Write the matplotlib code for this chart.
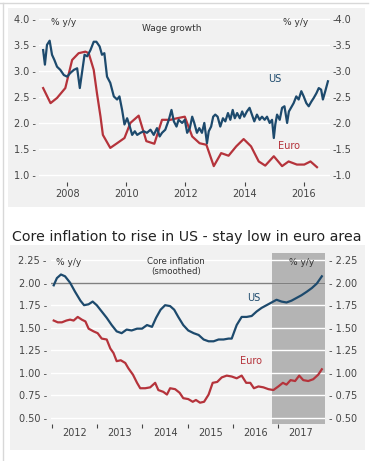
import matplotlib
matplotlib.use("Agg")
import matplotlib.pyplot as plt
from matplotlib.patches import Rectangle
from matplotlib.lines import Line2D
from matplotlib.ticker import FuncFormatter, FixedLocator

# ---------------- data: wage growth ----------------
us_wage_t = [2007.19, 2007.25, 2007.32, 2007.41, 2007.49, 2007.57, 2007.66, 2007.77, 2007.89, 2008.00,
             2008.11, 2008.23, 2008.34, 2008.43, 2008.51, 2008.59, 2008.68, 2008.79, 2008.90, 2008.99,
             2009.10, 2009.18, 2009.26, 2009.35, 2009.46, 2009.58, 2009.69, 2009.77, 2009.86, 2009.94,
             2010.03, 2010.12, 2010.20, 2010.29, 2010.37, 2010.48, 2010.59, 2010.70, 2010.82, 2010.93,
             2011.04, 2011.13, 2011.21, 2011.32, 2011.44, 2011.53, 2011.61, 2011.70, 2011.77, 2011.89,
             2011.98, 2012.06, 2012.15, 2012.23, 2012.30, 2012.39, 2012.47, 2012.56, 2012.64, 2012.73,
             2012.79, 2012.87, 2012.94, 2013.01, 2013.09, 2013.18, 2013.27, 2013.35, 2013.44, 2013.52,
             2013.60, 2013.67, 2013.75, 2013.84, 2013.92, 2013.99, 2014.08, 2014.17, 2014.25, 2014.33,
             2014.42, 2014.51, 2014.59, 2014.68, 2014.76, 2014.85, 2014.93, 2014.99, 2015.04, 2015.10,
             2015.19, 2015.27, 2015.35, 2015.44, 2015.50, 2015.57, 2015.66, 2015.75, 2015.83, 2015.92,
             2016.00, 2016.09, 2016.17, 2016.26, 2016.34, 2016.43, 2016.51, 2016.59, 2016.65, 2016.73,
             2016.82]
us_wage = [3.40, 3.12, 3.50, 3.58, 3.31, 3.21, 3.08, 3.02, 2.92, 2.89,
           2.96, 3.02, 3.05, 2.67, 2.99, 3.31, 3.28, 3.40, 3.56, 3.56,
           3.47, 3.31, 3.34, 2.89, 2.77, 2.51, 2.45, 2.51, 2.25, 1.97,
           2.09, 1.93, 1.77, 1.84, 1.77, 1.81, 1.84, 1.81, 1.87, 1.77,
           1.90, 1.74, 1.81, 1.87, 2.06, 2.25, 2.03, 1.93, 2.06, 2.00,
           2.06, 1.81, 1.90, 2.12, 2.00, 1.81, 1.90, 1.81, 2.00, 1.61,
           1.84, 1.93, 2.12, 2.16, 2.12, 1.93, 2.09, 2.03, 2.19, 2.06,
           2.25, 2.09, 2.19, 2.09, 2.22, 2.12, 2.22, 2.29, 2.16, 2.03,
           2.16, 2.06, 2.12, 2.06, 2.12, 2.00, 2.06, 1.71, 1.97, 2.16,
           2.06, 2.29, 2.32, 2.00, 2.22, 2.29, 2.38, 2.51, 2.45, 2.61,
           2.51, 2.38, 2.32, 2.41, 2.48, 2.57, 2.67, 2.64, 2.45, 2.61,
           2.80]

euro_wage_t = [2007.19, 2007.44, 2007.66, 2007.94, 2008.17, 2008.39, 2008.62, 2008.73, 2008.90, 2009.01,
               2009.13, 2009.21, 2009.46, 2009.69, 2009.94, 2010.14, 2010.42, 2010.68, 2010.95, 2011.21,
               2011.49, 2011.72, 2011.98, 2012.23, 2012.48, 2012.71, 2012.96, 2013.21, 2013.46, 2013.72,
               2013.97, 2014.22, 2014.48, 2014.70, 2014.99, 2015.27, 2015.49, 2015.77, 2016.02, 2016.23,
               2016.45]
euro_wage = [2.67, 2.38, 2.48, 2.67, 3.21, 3.34, 3.37, 3.34, 3.02, 2.57,
             2.12, 1.77, 1.52, 1.61, 1.71, 2.00, 2.14, 1.65, 1.60, 2.06,
             2.06, 2.09, 2.12, 1.74, 1.61, 1.58, 1.17, 1.42, 1.37, 1.55,
             1.69, 1.55, 1.26, 1.18, 1.36, 1.17, 1.26, 1.20, 1.20, 1.26,
             1.15]

wage_xticks = [2008, 2010, 2012, 2014, 2016]
wage_yticks = [1.0, 1.5, 2.0, 2.5, 3.0, 3.5, 4.0]

# ---------------- data: core inflation ----------------
us_core_t = [2012.04, 2012.11, 2012.20, 2012.29, 2012.40, 2012.51, 2012.63, 2012.71, 2012.81, 2012.90,
             2012.99, 2013.10, 2013.21, 2013.32, 2013.43, 2013.54, 2013.65, 2013.76, 2013.88, 2013.99,
             2014.10, 2014.21, 2014.30, 2014.40, 2014.50, 2014.61, 2014.70, 2014.79, 2014.90, 2015.01,
             2015.13, 2015.24, 2015.35, 2015.46, 2015.57, 2015.68, 2015.79, 2015.90, 2015.97, 2016.08,
             2016.19, 2016.30, 2016.41, 2016.52, 2016.63, 2016.74, 2016.85, 2016.96, 2017.07, 2017.18,
             2017.29, 2017.40, 2017.51, 2017.63, 2017.74, 2017.85, 2017.96]
us_core = [1.97, 2.05, 2.09, 2.07, 2.00, 1.90, 1.80, 1.75, 1.76, 1.79,
           1.75, 1.68, 1.61, 1.53, 1.46, 1.44, 1.48, 1.47, 1.49, 1.49,
           1.53, 1.51, 1.61, 1.70, 1.75, 1.74, 1.70, 1.62, 1.53, 1.47,
           1.44, 1.42, 1.37, 1.35, 1.35, 1.37, 1.37, 1.38, 1.38, 1.53,
           1.62, 1.62, 1.63, 1.68, 1.72, 1.75, 1.78, 1.81, 1.79, 1.78,
           1.80, 1.83, 1.86, 1.90, 1.94, 1.99, 2.07]

euro_core_t = [2012.04, 2012.13, 2012.22, 2012.32, 2012.40, 2012.48, 2012.57, 2012.66, 2012.74, 2012.81,
               2012.92, 2013.01, 2013.10, 2013.21, 2013.29, 2013.36, 2013.43, 2013.52, 2013.62, 2013.69,
               2013.79, 2013.88, 2013.95, 2014.06, 2014.17, 2014.28, 2014.35, 2014.46, 2014.54, 2014.61,
               2014.72, 2014.82, 2014.90, 2015.01, 2015.11, 2015.18, 2015.27, 2015.36, 2015.46, 2015.55,
               2015.65, 2015.75, 2015.86, 2015.97, 2016.08, 2016.19, 2016.29, 2016.38, 2016.46, 2016.56,
               2016.67, 2016.78, 2016.89, 2017.00, 2017.10, 2017.18, 2017.27, 2017.37, 2017.46, 2017.55,
               2017.66, 2017.77, 2017.88, 2017.96]
euro_core = [1.58, 1.56, 1.56, 1.58, 1.59, 1.58, 1.62, 1.59, 1.57, 1.49,
             1.46, 1.44, 1.38, 1.37, 1.27, 1.22, 1.13, 1.14, 1.11, 1.05,
             0.98, 0.89, 0.83, 0.83, 0.84, 0.89, 0.81, 0.79, 0.76, 0.83,
             0.82, 0.78, 0.72, 0.71, 0.68, 0.70, 0.67, 0.68, 0.76, 0.89,
             0.90, 0.95, 0.97, 0.96, 0.94, 0.97, 0.89, 0.89, 0.83, 0.85,
             0.84, 0.82, 0.81, 0.85, 0.89, 0.87, 0.92, 0.91, 0.97, 0.92,
             0.91, 0.93, 0.98, 1.04]

core_year_bounds = [2012, 2013, 2014, 2015, 2016, 2017]
core_year_labels = ["2012", "2013", "2014", "2015", "2016", "2017"]
core_yticks = [0.50, 0.75, 1.00, 1.25, 1.50, 1.75, 2.00, 2.25]
forecast_span = (2016.85, 2018.03)

# ---------------- styling ----------------
W, H = 379, 461
US_C = "#1d4a6d"
EU_C = "#b5333b"
PANEL = "#f1f1f1"
SHADE = "#b4b4b4"
TXT = "#333333"
TICK = "#444444"
FONT = "DejaVu Sans"

plt.rcParams["font.family"] = [FONT]

fig = plt.figure(figsize=(W / 100, H / 100), dpi=100)
fig.patch.set_facecolor("white")


def rect(x0, y0, x1, y1):
    return [x0 / W, 1 - y1 / H, (x1 - x0) / W, (y1 - y0) / H]


# frame lines and panels
fig.add_artist(Line2D([0, 368 / W], [1 - 3 / H, 1 - 3 / H], color="#d8d8d8", lw=1))
fig.add_artist(Line2D([3 / W, 3 / W], [0, 1 - 3 / H], color="#d8d8d8", lw=1))
fig.add_artist(Rectangle((8 / W, 1 - 207 / H), 357 / W, 199 / H, color=PANEL, lw=0, zorder=0))
fig.add_artist(Rectangle((10 / W, 1 - 450 / H), 355 / W, 205 / H, color=PANEL, lw=0, zorder=0))


def style_axes(ax, fmt_left, fmt_right, yticks, pad):
    ax.set_facecolor(PANEL)
    for s in ax.spines.values():
        s.set_visible(False)
    ax.set_yticks(yticks)
    ax.yaxis.set_major_formatter(FuncFormatter(fmt_left))
    ax.tick_params(axis="y", length=0, pad=pad, labelsize=7, colors=TICK)
    ax.grid(axis="y", color="white", lw=1)
    ax.grid(axis="x", visible=False)
    axr = ax.twinx()
    axr.set_ylim(ax.get_ylim())
    axr.set_yticks(yticks)
    axr.yaxis.set_major_formatter(FuncFormatter(fmt_right))
    axr.tick_params(axis="y", length=0, pad=pad, labelsize=7, colors=TICK)
    for s in axr.spines.values():
        s.set_visible(False)
    return axr


# ---------------- top chart ----------------
ax1 = fig.add_axes(rect(39, 10, 330, 182))
ax1.set_xlim(2007.05, 2016.89)
ax1.set_ylim(0.865, 4.17)
ax1.plot(euro_wage_t, euro_wage, color=EU_C, lw=1.6, zorder=3)
ax1.plot(us_wage_t, us_wage, color=US_C, lw=1.6, zorder=4)
style_axes(ax1, lambda v, p: f"{v:.1f} -", lambda v, p: f"-{v:.1f}", wage_yticks, 2)
ax1.set_xticks(wage_xticks)
ax1.set_xticklabels([str(y) for y in wage_xticks])
ax1.tick_params(axis="x", length=3, width=0.8, pad=2, labelsize=7, colors=TICK)

ax1.text(0.04, 0.93, "% y/y", transform=ax1.transAxes, fontsize=6.5, color=TXT, va="center")
ax1.text(0.84, 0.93, "% y/y", transform=ax1.transAxes, fontsize=6.5, color=TXT, va="center")
ax1.text(0.455, 0.89, "Wage growth", transform=ax1.transAxes, fontsize=6.5, color=TXT,
         ha="center", va="center")
ax1.text(0.81, 0.60, "US", transform=ax1.transAxes, fontsize=7, color=US_C, ha="center", va="center")
ax1.text(0.86, 0.21, "Euro", transform=ax1.transAxes, fontsize=7, color=EU_C, ha="center", va="center")

# ---------------- bottom chart ----------------
fig.text(12 / W, 1 - 237 / H, "Core inflation to rise in US - stay low in euro area",
         fontsize=10.2, color="#222222", va="center", ha="left")

ax2 = fig.add_axes(rect(51, 253, 325, 424))
ax2.set_xlim(2011.98, 2018.03)
ax2.set_ylim(0.434, 2.328)
ax2.axvspan(*forecast_span, color=SHADE, lw=0, zorder=1)
ax2.axhline(2.0, color="#808080", lw=1, zorder=2)
ax2.plot(euro_core_t, euro_core, color=EU_C, lw=1.6, zorder=3)
ax2.plot(us_core_t, us_core, color=US_C, lw=1.6, zorder=4)
style_axes(ax2, lambda v, p: f"{v:.2f} -", lambda v, p: f"- {v:.2f}", core_yticks, 3)
ax2.xaxis.set_major_locator(FixedLocator(core_year_bounds))
ax2.xaxis.set_minor_locator(FixedLocator([y + 0.5 for y in core_year_bounds]))
ax2.xaxis.set_major_formatter(FuncFormatter(lambda v, p: ""))
ax2.xaxis.set_minor_formatter(FuncFormatter(lambda v, p: core_year_labels[p] if p < len(core_year_labels) else ""))
ax2.tick_params(axis="x", which="major", length=3, width=0.8, colors=TICK)
ax2.tick_params(axis="x", which="minor", length=0, pad=3, labelsize=7, colors=TICK)

ax2.text(0.02, 0.945, "% y/y", transform=ax2.transAxes, fontsize=6.5, color=TXT, va="center")
ax2.text(0.87, 0.945, "% y/y", transform=ax2.transAxes, fontsize=6.5, color=TXT, va="center")
ax2.text(0.455, 0.92, "Core inflation\n(smoothed)", transform=ax2.transAxes, fontsize=6.2,
         color=TXT, ha="center", va="center", linespacing=1.1)
ax2.text(0.74, 0.735, "US", transform=ax2.transAxes, fontsize=7, color=US_C, ha="center", va="center")
ax2.text(0.73, 0.37, "Euro", transform=ax2.transAxes, fontsize=7, color=EU_C, ha="center", va="center")

fig.savefig("out.png", dpi=100, facecolor="white")
